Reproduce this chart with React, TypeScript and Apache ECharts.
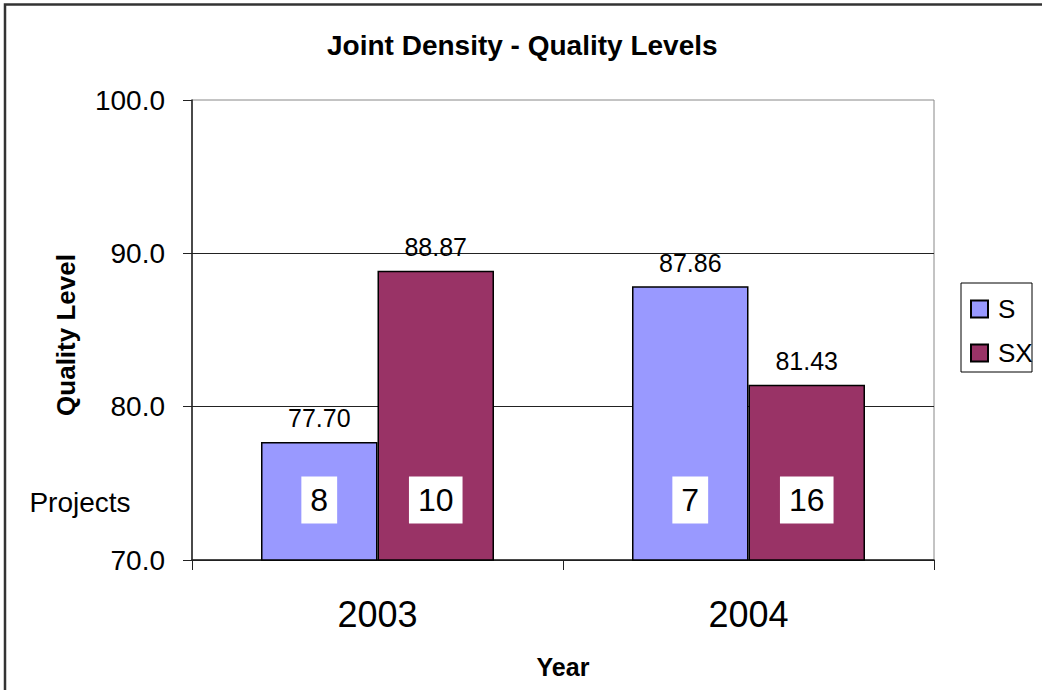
import React, { useEffect, useRef } from "react";
import * as echarts from "echarts";

const categories = ["2003", "2004"];
const seriesNames = ["S", "SX"];
const sValues = [77.7, 87.86];
const sxValues = [88.87, 81.43];
const sProjects = [8, 7];
const sxProjects = [10, 16];
const yTicks = { min: 70, max: 100, interval: 10 };

const FONT = "Liberation Sans";
const BAR_FRAC = 0.314;

export default function App() {
  const ref = useRef<HTMLDivElement>(null);
  useEffect(() => {
    if (!ref.current) return;
    const chart = echarts.init(ref.current, null, { renderer: "svg" });
    const projData: number[][] = [];
    categories.forEach((_, i) => {
      projData.push([i, 0, sProjects[i]]);
      projData.push([i, 1, sxProjects[i]]);
    });
    const valueLabel = {
      show: true,
      position: "top",
      distance: 11,
      color: "#000",
      fontFamily: FONT,
      fontSize: 25,
      formatter: (p: any) => Number(p.value).toFixed(2),
    };
    chart.setOption({
      animation: false,
      backgroundColor: "#fff",
      title: {
        text: "Joint Density - Quality Levels",
        left: 322,
        top: 26,
        textStyle: { fontFamily: FONT, fontSize: 28, fontWeight: "bold", color: "#000" },
      },
      legend: {
        orient: "vertical",
        left: 970,
        top: 296,
        itemWidth: 17,
        itemHeight: 17,
        itemGap: 18,
        padding: 0,
        textStyle: { fontFamily: FONT, fontSize: 26, color: "#000", padding: [0, 0, 0, 5] },
        data: seriesNames.map((n) => ({ name: n, icon: "rect" })),
      },
      grid: {
        left: 192,
        top: 100,
        width: 742,
        height: 460,
        show: true,
        borderColor: "#888",
        borderWidth: 1,
        backgroundColor: "transparent",
      },
      xAxis: {
        type: "category",
        data: categories,
        axisLine: { show: true, lineStyle: { color: "#222", width: 1.5 } },
        axisTick: { show: true, length: 10, lineStyle: { color: "#222" } },
        axisLabel: { fontFamily: FONT, fontSize: 36, color: "#000", margin: 36 },
      },
      yAxis: {
        type: "value",
        min: yTicks.min,
        max: yTicks.max,
        interval: yTicks.interval,
        axisLine: { show: true, lineStyle: { color: "#222", width: 1.5 } },
        axisTick: { show: true, length: 9, lineStyle: { color: "#222" } },
        axisLabel: {
          fontFamily: FONT,
          fontSize: 28,
          color: "#000",
          margin: 27,
          formatter: (v: number) => v.toFixed(1),
        },
        splitLine: { show: true, showMaxLine: false, lineStyle: { color: "#222", width: 1 } },
      },
      series: [
        {
          name: seriesNames[0],
          type: "bar",
          data: sValues,
          barWidth: (BAR_FRAC * 100).toFixed(1) + "%",
          barGap: "0%",
          itemStyle: { color: "#9999FF", borderColor: "#000", borderWidth: 1.5 },
          label: valueLabel,
        },
        {
          name: seriesNames[1],
          type: "bar",
          data: sxValues,
          barWidth: (BAR_FRAC * 100).toFixed(1) + "%",
          barGap: "0%",
          itemStyle: { color: "#993366", borderColor: "#000", borderWidth: 1.5 },
          label: valueLabel,
        },
        {
          type: "custom",
          clip: false,
          silent: true,
          encode: { x: 0, y: 2 },
          data: projData,
          z: 10,
          renderItem: (params: any, api: any) => {
            const cat = api.value(0);
            const s = api.value(1);
            const n = api.value(2);
            const base = api.coord([cat, yTicks.min]);
            const bw = api.size([1, 0])[0] * BAR_FRAC;
            const x = base[0] + (s === 0 ? -bw / 2 : bw / 2);
            const y = base[1] - 60;
            return {
              type: "text",
              x,
              y,
              style: {
                text: String(n),
                fontFamily: FONT,
                fontSize: 32,
                fill: "#000",
                backgroundColor: "#fff",
                padding: [8, 9, 7, 9],
                align: "center",
                verticalAlign: "middle",
              },
            };
          },
        },
      ],
      graphic: [
        {
          type: "rect",
          shape: { x: 5, y: 4.5, width: 2000, height: 2000 },
          style: { fill: "none", stroke: "#333", lineWidth: 2.5 },
          silent: true,
        },
        {
          type: "rect",
          shape: { x: 961, y: 283, width: 71, height: 89 },
          style: { fill: "none", stroke: "#000", lineWidth: 1 },
          silent: true,
        },
        {
          type: "text",
          x: 80,
          y: 502,
          style: {
            text: "Projects",
            fontFamily: FONT,
            fontSize: 28,
            fill: "#000",
            align: "center",
            verticalAlign: "middle",
          },
        },
        {
          type: "text",
          x: 66,
          y: 335,
          rotation: Math.PI / 2,
          style: {
            text: "Quality Level",
            fontFamily: FONT,
            fontSize: 26,
            fontWeight: "bold",
            fill: "#000",
            align: "center",
            verticalAlign: "middle",
          },
        },
        {
          type: "text",
          x: 563,
          y: 667,
          style: {
            text: "Year",
            fontFamily: FONT,
            fontSize: 25,
            fontWeight: "bold",
            fill: "#000",
            align: "center",
            verticalAlign: "middle",
          },
        },
      ],
    });
    return () => chart.dispose();
  }, []);
  return (
    <div
      ref={ref}
      style={{ position: "fixed", left: 0, top: 0, width: 1042, height: 690 }}
    />
  );
}
